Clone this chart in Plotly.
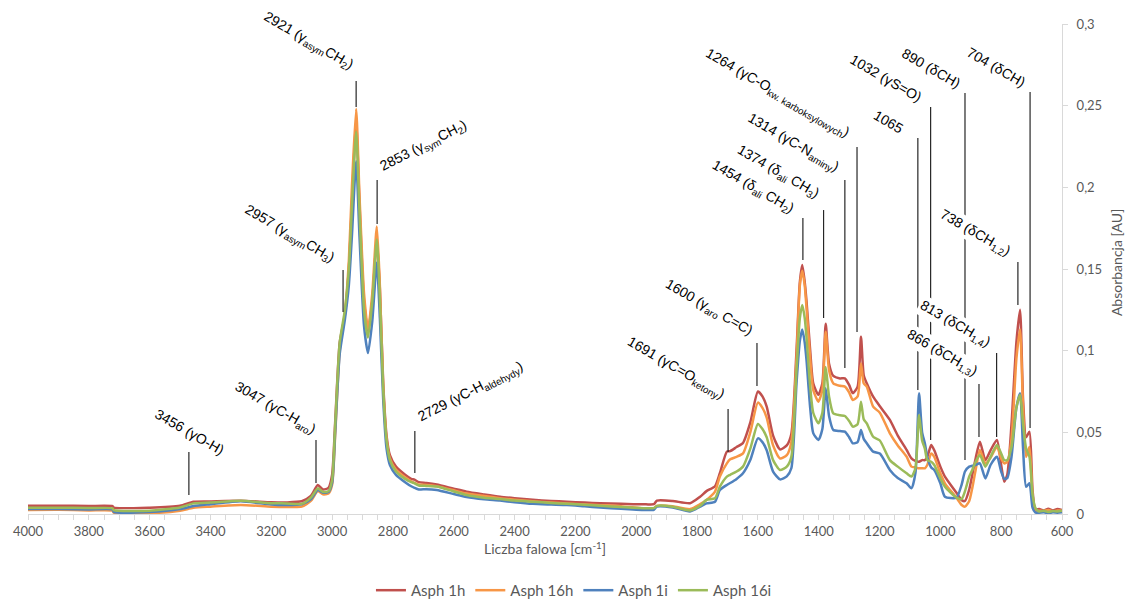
import plotly.graph_objects as go

# ---------------- data ----------------
wavenumber = [
    4000, 3900, 3800, 3722, 3718, 3600, 3500, 3456, 3400, 3300,
    3200, 3150, 3100, 3070, 3047, 3030, 3012, 3000, 2990, 2975,
    2958, 2945, 2935, 2921, 2910, 2895, 2882, 2868, 2853, 2843,
    2832, 2821, 2810, 2790, 2760, 2740, 2729, 2715, 2690, 2656,
    2600, 2558, 2500, 2448, 2400, 2340, 2280, 2228, 2170, 2119,
    2050, 1968, 1942, 1932, 1880, 1823, 1790, 1769, 1741, 1725,
    1702, 1691, 1670, 1649, 1625, 1600, 1585, 1571, 1550, 1527,
    1505, 1490, 1473, 1462, 1454, 1446, 1440, 1428, 1418, 1401,
    1388, 1377, 1366, 1352, 1330, 1314, 1300, 1288, 1272, 1261,
    1252, 1242, 1221, 1199, 1166, 1140, 1111, 1095, 1082, 1070,
    1060, 1051, 1043, 1030, 1020, 1000, 985, 947, 930, 919,
    905, 895, 884, 870, 852, 835, 814, 800, 790, 780,
    766, 750, 738, 728, 718, 707, 697, 688, 675, 660,
    645, 630, 615, 600,
]

asph_1h = [
    0.0050, 0.0051, 0.0049, 0.0048, 0.0039, 0.0039, 0.0050, 0.0075, 0.0077, 0.0081,
    0.0072, 0.0071, 0.0078, 0.0110, 0.0177, 0.0150, 0.0160, 0.0240, 0.0560, 0.1050,
    0.1220, 0.1500, 0.1900, 0.2400, 0.1900, 0.1300, 0.1120, 0.1300, 0.1680, 0.1380,
    0.0800, 0.0480, 0.0360, 0.0290, 0.0240, 0.0215, 0.0210, 0.0195, 0.0190, 0.0180,
    0.0155, 0.0137, 0.0120, 0.0106, 0.0097, 0.0087, 0.0080, 0.0075, 0.0070, 0.0066,
    0.0062, 0.0059, 0.0060, 0.0082, 0.0080, 0.0066, 0.0106, 0.0140, 0.0170, 0.0250,
    0.0382, 0.0385, 0.0410, 0.0435, 0.0560, 0.0750, 0.0720, 0.0657, 0.0480, 0.0395,
    0.0420, 0.0490, 0.1000, 0.1420, 0.1525, 0.1420, 0.1300, 0.1000, 0.0800, 0.0730,
    0.0800, 0.1165, 0.0920, 0.0845, 0.0830, 0.0830, 0.0790, 0.0740, 0.0780, 0.1085,
    0.0850, 0.0800, 0.0718, 0.0660, 0.0576, 0.0480, 0.0392, 0.0340, 0.0325, 0.0320,
    0.0330, 0.0330, 0.0350, 0.0422, 0.0390, 0.0290, 0.0229, 0.0130, 0.0085, 0.0080,
    0.0150, 0.0240, 0.0340, 0.0443, 0.0330, 0.0390, 0.0453, 0.0300, 0.0198, 0.0240,
    0.0550, 0.1050, 0.1250, 0.0700, 0.0470, 0.0504, 0.0150, 0.0030, 0.0030, 0.0022,
    0.0032, 0.0022, 0.0030, 0.0025,
]

asph_16h = [
    0.0025, 0.0026, 0.0022, 0.0020, 0.0008, 0.0005, 0.0020, 0.0038, 0.0045, 0.0055,
    0.0045, 0.0043, 0.0045, 0.0080, 0.0140, 0.0120, 0.0125, 0.0180, 0.0480, 0.1000,
    0.1230, 0.1550, 0.2000, 0.2480, 0.1950, 0.1350, 0.1130, 0.1350, 0.1760, 0.1400,
    0.0780, 0.0460, 0.0340, 0.0270, 0.0225, 0.0200, 0.0190, 0.0180, 0.0178, 0.0170,
    0.0145, 0.0125, 0.0110, 0.0097, 0.0088, 0.0078, 0.0070, 0.0064, 0.0058, 0.0054,
    0.0048, 0.0032, 0.0034, 0.0050, 0.0048, 0.0030, 0.0060, 0.0086, 0.0137, 0.0229,
    0.0310, 0.0335, 0.0350, 0.0371, 0.0500, 0.0682, 0.0650, 0.0590, 0.0420, 0.0340,
    0.0360, 0.0440, 0.0950, 0.1400, 0.1490, 0.1400, 0.1260, 0.0950, 0.0760, 0.0688,
    0.0760, 0.1116, 0.0880, 0.0800, 0.0785, 0.0780, 0.0745, 0.0698, 0.0720, 0.0922,
    0.0800, 0.0780, 0.0657, 0.0620, 0.0494, 0.0420, 0.0351, 0.0290, 0.0285, 0.0280,
    0.0280, 0.0280, 0.0300, 0.0371, 0.0350, 0.0249, 0.0188, 0.0100, 0.0055, 0.0045,
    0.0080, 0.0160, 0.0270, 0.0392, 0.0310, 0.0345, 0.0412, 0.0340, 0.0310, 0.0320,
    0.0460, 0.0950, 0.1130, 0.0650, 0.0350, 0.0410, 0.0120, 0.0020, 0.0020, 0.0018,
    0.0025, 0.0015, 0.0022, 0.0020,
]

asph_1i = [
    0.0030, 0.0031, 0.0028, 0.0027, 0.0013, 0.0012, 0.0030, 0.0049, 0.0060, 0.0078,
    0.0058, 0.0055, 0.0060, 0.0090, 0.0147, 0.0130, 0.0135, 0.0190, 0.0500, 0.0980,
    0.1190, 0.1400, 0.1700, 0.2160, 0.1700, 0.1150, 0.0985, 0.1180, 0.1540, 0.1200,
    0.0700, 0.0400, 0.0300, 0.0240, 0.0195, 0.0170, 0.0160, 0.0150, 0.0152, 0.0147,
    0.0122, 0.0104, 0.0090, 0.0082, 0.0072, 0.0062, 0.0058, 0.0055, 0.0047, 0.0040,
    0.0032, 0.0024, 0.0026, 0.0045, 0.0040, 0.0015, 0.0045, 0.0065, 0.0075, 0.0147,
    0.0178, 0.0190, 0.0215, 0.0249, 0.0330, 0.0463, 0.0440, 0.0390, 0.0260, 0.0212,
    0.0230, 0.0280, 0.0800, 0.1060, 0.1130, 0.1050, 0.0940, 0.0650, 0.0495, 0.0453,
    0.0520, 0.0770, 0.0600, 0.0514, 0.0508, 0.0504, 0.0470, 0.0433, 0.0440, 0.0514,
    0.0460, 0.0433, 0.0382, 0.0370, 0.0270, 0.0220, 0.0188, 0.0157, 0.0250, 0.0739,
    0.0500, 0.0433, 0.0350, 0.0285, 0.0270, 0.0188, 0.0106, 0.0100, 0.0180, 0.0260,
    0.0290, 0.0295, 0.0300, 0.0310, 0.0218, 0.0300, 0.0350, 0.0260, 0.0215, 0.0220,
    0.0350, 0.0650, 0.0739, 0.0400, 0.0167, 0.0188, 0.0040, 0.0010, 0.0008, 0.0010,
    0.0005, 0.0010, 0.0008, 0.0010,
]

asph_16i = [
    0.0038, 0.0039, 0.0036, 0.0035, 0.0024, 0.0020, 0.0040, 0.0065, 0.0070, 0.0081,
    0.0066, 0.0065, 0.0062, 0.0100, 0.0157, 0.0135, 0.0140, 0.0210, 0.0540, 0.1050,
    0.1250, 0.1500, 0.1880, 0.2340, 0.1850, 0.1250, 0.1080, 0.1300, 0.1680, 0.1320,
    0.0760, 0.0450, 0.0330, 0.0260, 0.0215, 0.0195, 0.0188, 0.0175, 0.0172, 0.0168,
    0.0138, 0.0116, 0.0100, 0.0092, 0.0082, 0.0075, 0.0068, 0.0062, 0.0056, 0.0050,
    0.0043, 0.0035, 0.0036, 0.0050, 0.0045, 0.0022, 0.0050, 0.0086, 0.0096, 0.0167,
    0.0229, 0.0240, 0.0260, 0.0290, 0.0400, 0.0551, 0.0520, 0.0470, 0.0330, 0.0269,
    0.0290, 0.0350, 0.0880, 0.1200, 0.1280, 0.1200, 0.1080, 0.0780, 0.0620, 0.0555,
    0.0620, 0.0900, 0.0720, 0.0616, 0.0605, 0.0600, 0.0570, 0.0535, 0.0550, 0.0688,
    0.0580, 0.0555, 0.0473, 0.0450, 0.0330, 0.0290, 0.0249, 0.0229, 0.0280, 0.0606,
    0.0450, 0.0400, 0.0330, 0.0320, 0.0300, 0.0218, 0.0167, 0.0100, 0.0092, 0.0140,
    0.0230, 0.0270, 0.0320, 0.0361, 0.0290, 0.0350, 0.0422, 0.0370, 0.0330, 0.0330,
    0.0410, 0.0650, 0.0730, 0.0550, 0.0400, 0.0350, 0.0120, 0.0040, 0.0015, 0.0020,
    0.0012, 0.0018, 0.0015, 0.0020,
]

series_names = ["Asph 1h", "Asph 16h", "Asph 1i", "Asph 16i"]
series_values = [asph_1h, asph_16h, asph_1i, asph_16i]
series_colors = ["#C0504D", "#F79646", "#4F81BD", "#9BBB59"]

x_tick_values = [4000, 3800, 3600, 3400, 3200, 3000, 2800, 2600, 2400, 2200,
                 2000, 1800, 1600, 1400, 1200, 1000, 800, 600]

# ---------------- peak annotations ----------------
peak_texts = [
    "3456 (γO-H)",
    "3047 (γC-H<sub>aro</sub>)",
    "2957 (γ<sub>asym</sub>CH<sub>3</sub>)",
    "2921 (γ<sub>asym</sub>CH<sub>2</sub>)",
    "2853 (γ<sub>sym</sub>CH<sub>2</sub>)",
    "2729 (γC-H<sub>aldehydy</sub>)",
    "1691 (γC=O<sub>ketony</sub>)",
    "1600 (γ<sub>aro</sub> C=C)",
    "1454 (δ<sub>ali</sub> CH<sub>2</sub>)",
    "1374 (δ<sub>ali</sub> CH<sub>3</sub>)",
    "1314 (γC-N<sub>aminy</sub>)",
    "1264 (γC-O<sub>kw. karboksylowych</sub>)",
    "1065",
    "1032 (γS=O)",
    "890 (δCH)",
    "866 (δCH<sub>1,3</sub>)",
    "813 (δCH<sub>1,4</sub>)",
    "738 (δCH<sub>1,2</sub>)",
    "704 (δCH)",
]
line_x = [3471, 3053, 2964, 2921, 2852, 2728, 1698, 1603, 1452, 1384,
          1314, 1274, 1074, 1032, 919, 873, 815, 745, 705]
line_bottom = [0.0116, 0.0190, 0.1237, 0.2492, 0.1776, 0.0251, 0.0380, 0.0784, 0.1555, 0.1200,
               0.0894, 0.1114, 0.0759, 0.0453, 0.0331, 0.0471, 0.0471, 0.1280, 0.0527]
line_top = [0.0380, 0.0453, 0.1494, 0.2651, 0.2045, 0.0508, 0.0643, 0.1047, 0.1812, 0.1861,
            0.2045, 0.2247, 0.2302, 0.2492, 0.2578, 0.0796, 0.0986, 0.1543, 0.2584]
label_x = [3336, 3037, 2974, 2912, 2862, 2737, 1692, 1596, 1462, 1379,
           1314, 1281, 1103, 1044, 916, 860, 817, 751, 702]
label_y = [0.0324, 0.0447, 0.1494, 0.2676, 0.2057, 0.0520, 0.0661, 0.1047, 0.1794, 0.1886,
           0.2051, 0.2265, 0.2296, 0.2486, 0.2571, 0.0802, 0.0980, 0.1537, 0.2578]
label_dir = ["down", "down", "down", "down", "up", "up", "down", "down", "down", "down",
             "down", "down", "down", "down", "down", "down", "down", "down", "down"]

# ---------------- figure ----------------
fig = go.Figure()
for name, vals, col in zip(series_names, series_values, series_colors):
    fig.add_trace(go.Scatter(
        x=wavenumber, y=vals, name=name, mode="lines",
        line=dict(color=col, width=2.5, shape="spline", smoothing=0.6),
    ))

shapes = []
for xv, y0, y1 in zip(line_x, line_bottom, line_top):
    shapes.append(dict(type="line", xref="x", yref="y", x0=xv, x1=xv, y0=y0, y1=y1,
                       line=dict(color="#262626", width=1.2), layer="above"))

annotations = []
for txt, xv, yv, d in zip(peak_texts, label_x, label_y, label_dir):
    annotations.append(dict(
        text=txt, x=xv, y=yv, xref="x", yref="y", showarrow=False,
        textangle=30 if d == "down" else -27,
        xanchor="right" if d == "down" else "left",
        yanchor="bottom",
        bgcolor="white", borderpad=1,
        font=dict(family="Liberation Sans, Arial, sans-serif", size=14, color="#000000"),
    ))

# y-axis title (right side, reading bottom-to-top)
annotations.append(dict(
    text="Absorbancja [AU]", xref="paper", yref="paper", x=1.0522, y=0.514,
    xanchor="center", yanchor="middle", textangle=-90, showarrow=False,
    font=dict(family="Lato, 'Open Sans', sans-serif", size=14, color="#595959"),
))

fig.update_layout(
    width=1125, height=601,
    margin=dict(l=28, r=63, t=24, b=87, autoexpand=False),
    paper_bgcolor="white", plot_bgcolor="white",
    separators=", ",
    font=dict(family="Lato, 'Open Sans', sans-serif", size=12, color="#595959"),
    shapes=shapes,
    annotations=annotations,
    showlegend=True,
    legend=dict(orientation="h", x=0.528, xanchor="center", y=-0.156, yanchor="middle",
                font=dict(size=15, color="#595959"), bgcolor="rgba(0,0,0,0)"),
    xaxis=dict(
        range=[4000, 600], tickvals=x_tick_values, automargin=False,
        showgrid=False, zeroline=False,
        showline=True, linecolor="#D9D9D9", linewidth=1,
        ticks="outside", ticklen=5, tickcolor="#D9D9D9",
        minor=dict(dtick=50, ticks="outside", ticklen=5, tickcolor="#D9D9D9", showgrid=False),
        tickfont=dict(size=13, color="#595959"),
        title=dict(text="Liczba falowa [cm<sup>-1</sup>]", standoff=6,
                   font=dict(size=14, color="#595959")),
    ),
    yaxis=dict(
        range=[0, 0.3], dtick=0.05, side="right", automargin=False,
        showgrid=False, zeroline=False,
        showline=True, linecolor="#D9D9D9", linewidth=1,
        ticks="outside", ticklen=5, tickcolor="#D9D9D9",
        tickfont=dict(size=13, color="#595959"),
        ticklabelstandoff=6,
    ),
)

fig.write_html(
    "out.html",
    config={"displayModeBar": False},
    post_script="document.body.style.margin='0';document.body.style.overflow='hidden';",
)
